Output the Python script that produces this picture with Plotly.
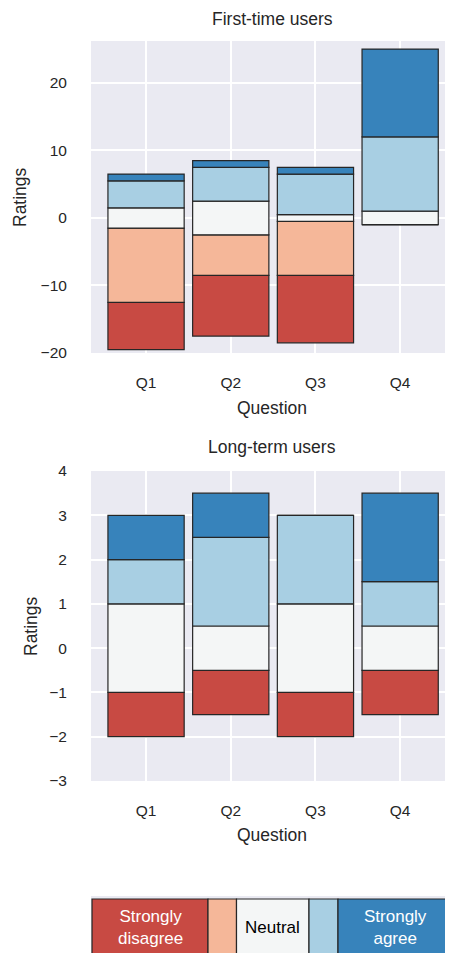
import plotly.graph_objects as go

questions = ["Q1", "Q2", "Q3", "Q4"]
categories = ["Strongly disagree", "Disagree", "Neutral", "Agree", "Strongly agree"]
colors = ["#c84a43", "#f5b799", "#f4f6f6", "#a8cfe3", "#3783bb"]

first_time = {
    "Strongly disagree": [7, 9, 10, 0],
    "Disagree": [11, 6, 8, 0],
    "Neutral": [3, 5, 1, 2],
    "Agree": [4, 5, 6, 11],
    "Strongly agree": [1, 1, 1, 13],
}
long_term = {
    "Strongly disagree": [1, 1, 1, 1],
    "Disagree": [0, 0, 0, 0],
    "Neutral": [2, 1, 2, 1],
    "Agree": [1, 2, 2, 1],
    "Strongly agree": [1, 1, 0, 2],
}

W, H = 453, 953
OFF = 8  # page body margin offset
FONT = "Liberation Sans, Arial, sans-serif"
TXT = "#262626"

fig = go.Figure()


def add_group(data, xa, ya):
    n = len(questions)
    start = [-(data["Strongly disagree"][i] + data["Disagree"][i] + data["Neutral"][i] / 2) for i in range(n)]
    base = list(start)
    for cat, col in zip(categories, colors):
        vals = data[cat]
        fig.add_trace(go.Bar(
            x=questions, y=vals, base=list(base), xaxis=xa, yaxis=ya,
            marker=dict(color=col, line=dict(color="#262626", width=1.2)),
            width=0.9, name=cat, showlegend=False, hoverinfo="skip",
        ))
        base = [b + v for b, v in zip(base, vals)]


add_group(first_time, "x", "y")
add_group(long_term, "x2", "y2")


def py(p):
    return 1 - (p - OFF) / H


def px(p):
    return (p - OFF) / W


xdom = [px(91), 1.0]
xr = [-0.65, -0.65 + (W - (91 - OFF)) / 84.7]
axis_common = dict(
    showgrid=True, gridcolor="white", gridwidth=1.5, zeroline=False,
    showline=False, ticks="outside", tickcolor="rgba(0,0,0,0)",
    automargin=False,
    tickfont=dict(size=15.5, color=TXT, family=FONT),
)
fig.update_layout(
    template="none",
    width=W, height=H, margin=dict(l=0, r=0, t=0, b=0, pad=0, autoexpand=False),
    paper_bgcolor="white", plot_bgcolor="#eaeaf2",
    barmode="overlay", font=dict(family=FONT, color=TXT),
    xaxis=dict(domain=xdom, range=xr, anchor="y", ticklen=15, **axis_common),
    yaxis=dict(domain=[py(353), py(41)], range=[-20, 26.2], anchor="x", ticklen=20,
               tickvals=[-20, -10, 0, 10, 20], **axis_common),
    xaxis2=dict(domain=xdom, range=xr, anchor="y2", ticklen=15, **axis_common),
    yaxis2=dict(domain=[py(781), py(471)], range=[-3, 4], anchor="x2", ticklen=20,
                tickvals=[-3, -2, -1, 0, 1, 2, 3, 4], **axis_common),
)

ann = []


def label(text, x, y, size=17.5, color=TXT, angle=0):
    ann.append(dict(text=text, x=px(x), y=py(y), xref="paper", yref="paper",
                    showarrow=False, textangle=angle, xanchor="center", yanchor="middle",
                    font=dict(size=size, color=color, family=FONT)))


label("First-time users", 272, 19)
label("Long-term users", 272, 447)
label("Ratings", 20, 197, angle=-90)
label("Ratings", 31, 626, angle=-90)
label("Question", 272, 408)
label("Question", 272, 835)

# Legend bar
shapes = [dict(type="rect", xref="paper", yref="paper", x0=px(91), x1=1.0,
               y0=0, y1=py(896), fillcolor="#eaeaf2", line=dict(width=0), layer="below")]
edges = [92, 208, 236.5, 309, 338, 470]
for i, col in enumerate(colors):
    shapes.append(dict(type="rect", xref="paper", yref="paper",
                       x0=px(edges[i]), x1=px(edges[i + 1]), y0=-0.01, y1=py(899),
                       fillcolor=col, line=dict(color="#262626", width=1.2)))
label("Strongly<br>disagree", 150, 927, size=17, color="white")
label("Neutral", 272.5, 927, size=17, color="black")
label("Strongly<br>agree", 395, 927, size=17, color="white")

fig.update_layout(shapes=shapes, annotations=ann)
fig.write_html("out.html")
